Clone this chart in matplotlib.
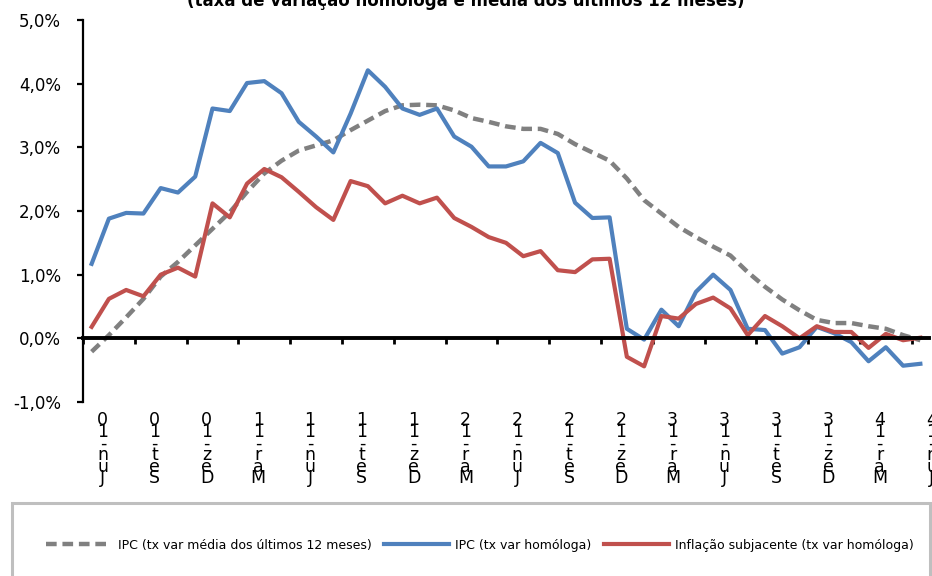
import matplotlib
matplotlib.use('Agg')
import matplotlib.pyplot as plt
import matplotlib.patches as patches
import numpy as np

# dados mensais Jun-10 .. Jun-14 (%)
ipc_12m = [-0.21, 0.05, 0.33, 0.62, 0.97, 1.20, 1.46, 1.72, 1.98, 2.30, 2.59, 2.79,
           2.95, 3.03, 3.11, 3.27, 3.42, 3.57, 3.66, 3.67, 3.66, 3.58, 3.46, 3.40,
           3.33, 3.29, 3.29, 3.21, 3.05, 2.92, 2.79, 2.51, 2.17, 1.96, 1.75, 1.59,
           1.44, 1.30, 1.04, 0.81, 0.61, 0.44, 0.29, 0.24, 0.24, 0.19, 0.15, 0.05, -0.03]
ipc_yoy = [1.17, 1.88, 1.97, 1.96, 2.36, 2.29, 2.54, 3.61, 3.57, 4.01, 4.04, 3.85,
           3.40, 3.17, 2.92, 3.53, 4.21, 3.95, 3.61, 3.51, 3.61, 3.17, 3.01, 2.70,
           2.70, 2.78, 3.07, 2.91, 2.13, 1.89, 1.90, 0.15, -0.02, 0.45, 0.19, 0.73,
           1.00, 0.76, 0.15, 0.13, -0.24, -0.14, 0.18, 0.08, -0.06, -0.36, -0.14, -0.43, -0.40]
core = [0.18, 0.62, 0.76, 0.66, 1.00, 1.11, 0.97, 2.12, 1.90, 2.43, 2.66, 2.53,
        2.30, 2.06, 1.86, 2.47, 2.39, 2.12, 2.24, 2.12, 2.21, 1.89, 1.75, 1.59,
        1.50, 1.29, 1.37, 1.07, 1.04, 1.24, 1.25, -0.29, -0.44, 0.35, 0.31, 0.54,
        0.64, 0.47, 0.05, 0.35, 0.19, 0.00, 0.19, 0.10, 0.10, -0.15, 0.07, -0.03, 0.01]

tick_labels = ['Jun-10', 'Set-10', 'Dez-10', 'Mar-11', 'Jun-11', 'Set-11', 'Dez-11',
               'Mar-12', 'Jun-12', 'Set-12', 'Dez-12', 'Mar-13', 'Jun-13', 'Set-13',
               'Dez-13', 'Mar-14', 'Jun-14']
series_names = ['IPC (tx var média dos últimos 12 meses)',
                'IPC (tx var homóloga)',
                'Inflação subjacente (tx var homóloga)']

x = np.arange(len(ipc_yoy))

fig = plt.figure(figsize=(9.32, 5.76), dpi=100)
ax = fig.add_axes([83/932, 174/576, 846/932, 382/576])

ax.plot(x, ipc_12m, color='#808080', lw=3.2, ls=(0, (2.4, 1.3)), label=series_names[0])
ax.plot(x, ipc_yoy, color='#4F81BD', lw=3.0, label=series_names[1])
ax.plot(x, core, color='#C0504D', lw=3.0, label=series_names[2])

ax.set_xlim(-0.5, len(x) - 0.5)
ax.set_ylim(-1, 5)
ax.set_yticks(np.arange(-1, 5.1, 1))
ax.set_yticklabels([('%.1f%%' % v).replace('.', ',') for v in np.arange(-1, 5.1, 1)],
                   fontsize=12)

ax.spines['top'].set_visible(False)
ax.spines['right'].set_visible(False)
ax.spines['bottom'].set_position(('data', 0))
ax.spines['bottom'].set_linewidth(2.8)
ax.spines['left'].set_linewidth(1.6)
ax.set_xticks(np.arange(-0.5, len(x), 3))
ax.tick_params(axis='x', direction='out', length=4, width=2, labelbottom=False)
ax.tick_params(axis='y', direction='out', length=4, width=1.6, pad=12)

# rótulos do eixo x, letras empilhadas
for k, lbl in enumerate(tick_labels):
    ax.text(3 * k + 0.65, -1.14, '\n'.join(reversed(lbl)), ha='center', va='top',
            fontsize=12.5, linespacing=0.55, clip_on=False)

fig.text(0.5, 1 - 6/576, '(taxa de variação homóloga e média dos últimos 12 meses)',
         ha='center', va='baseline', fontsize=12, fontweight='bold')

# legenda
box = patches.Rectangle((12/932, -0.1), 918/932, (576 - 503)/576 + 0.1,
                        transform=fig.transFigure, fill=False,
                        edgecolor='#BFBFBF', lw=2.2)
fig.patches.append(box)
fig.legend(loc='center', bbox_to_anchor=(480/932, 1 - 545/576), ncol=3,
           frameon=False, fontsize=9, handlelength=5.2, handletextpad=0.5,
           columnspacing=1.0)

fig.savefig('out.png', dpi=100)
